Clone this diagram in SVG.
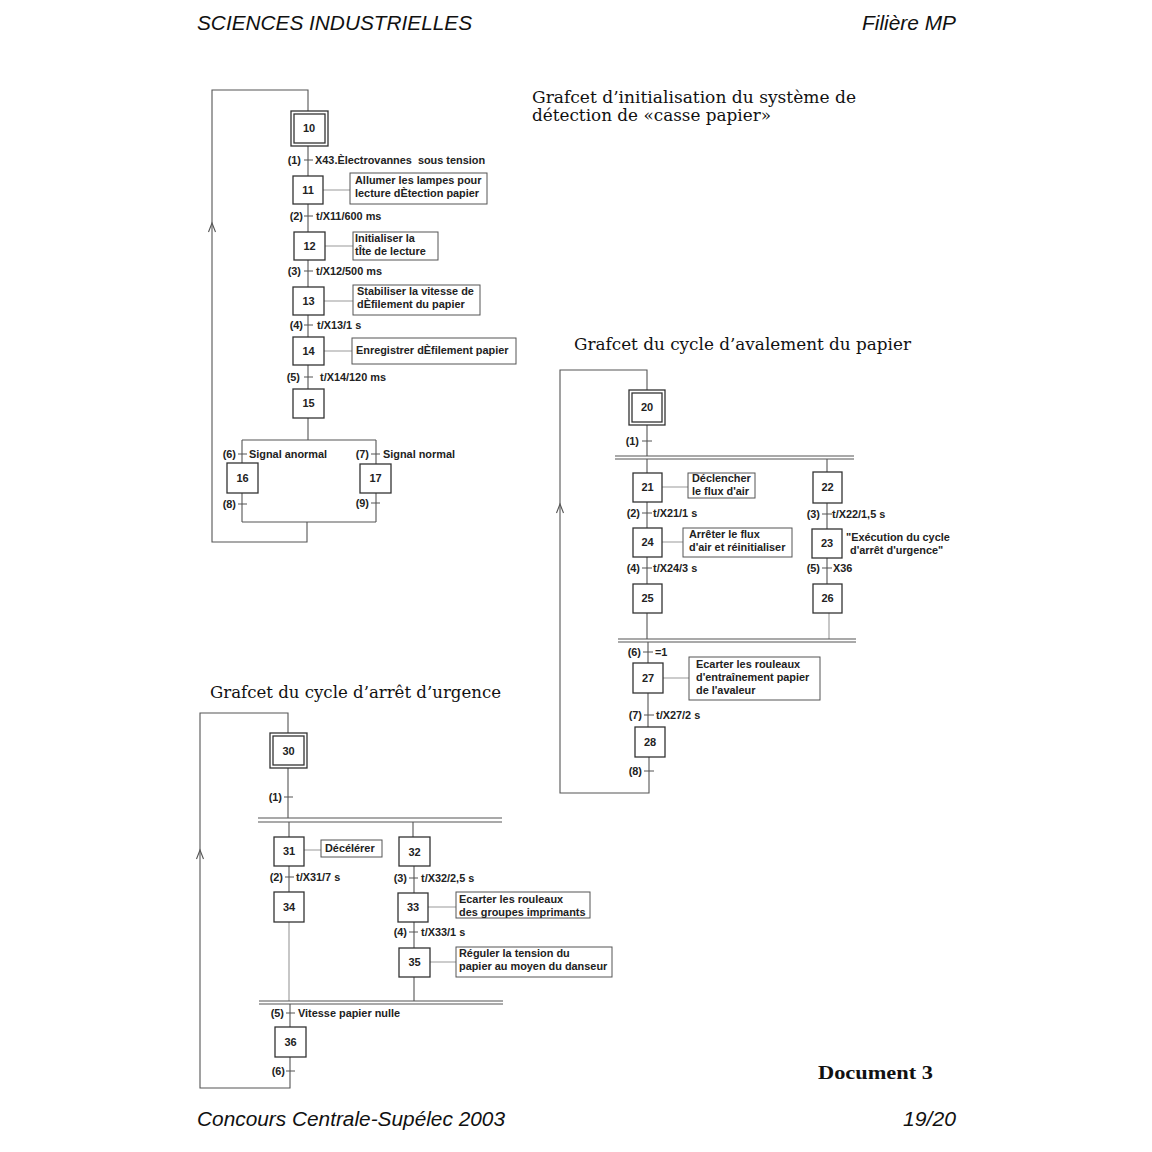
<svg xmlns="http://www.w3.org/2000/svg" width="1152" height="1152" viewBox="0 0 1152 1152">
<style>
.bg{fill:#fff}
.st{fill:#fff;stroke:#333;stroke-width:1.3}
.ac{fill:#fff;stroke:#555;stroke-width:1}
.ln{fill:none;stroke:#555;stroke-width:1.1}
.lg{fill:none;stroke:#999;stroke-width:1.1}
.num{font-family:"Liberation Sans",Arial,sans-serif;font-weight:bold;font-size:11px;fill:#222;text-anchor:middle}
.lb{font-family:"Liberation Sans",Arial,sans-serif;font-weight:bold;font-size:10.9px;fill:#222}
.lbe{font-family:"Liberation Sans",Arial,sans-serif;font-weight:bold;font-size:10.9px;fill:#222;text-anchor:end}
.hd{font-family:"Liberation Sans",Arial,sans-serif;font-style:italic;font-size:20px;fill:#111}
.tt{font-family:"DejaVu Serif","Liberation Serif",serif;font-size:16px;fill:#111}
.doc{font-family:"Liberation Serif",serif;font-weight:bold;font-size:19px;fill:#111}
</style>
<rect class="bg" x="0" y="0" width="1152" height="1152"/>

<!-- headers -->
<text class="hd" x="197" y="30" textLength="275" lengthAdjust="spacingAndGlyphs">SCIENCES INDUSTRIELLES</text>
<text class="hd" x="862" y="30" textLength="94" lengthAdjust="spacingAndGlyphs">Filière MP</text>
<text class="hd" x="197" y="1126" textLength="308" lengthAdjust="spacingAndGlyphs">Concours Centrale-Supélec 2003</text>
<text class="hd" x="903" y="1126" textLength="53" lengthAdjust="spacingAndGlyphs">19/20</text>
<text class="doc" x="818" y="1079" textLength="115" lengthAdjust="spacingAndGlyphs">Document 3</text>

<text class="tt" x="532" y="103" textLength="324" lengthAdjust="spacingAndGlyphs">Grafcet d’initialisation du système de</text>
<text class="tt" x="532" y="121" textLength="239" lengthAdjust="spacingAndGlyphs">détection de «casse papier»</text>
<text class="tt" x="574" y="350" textLength="337" lengthAdjust="spacingAndGlyphs">Grafcet du cycle d’avalement du papier</text>
<text class="tt" x="210" y="698" textLength="291" lengthAdjust="spacingAndGlyphs">Grafcet du cycle d’arrêt d’urgence</text>

<!-- connectors -->
<g id="connectors">
  <!-- grafcet 1 -->
  <path class="ln" d="M308,111 V90 H212 V542 H307 V522"/>
  <path class="ln" d="M208.5,232 L212,223 L215.5,232"/>
  <path class="ln" d="M308,146 V176 M308,204 V232 M308,260 V287 M308,315 V337 M308,365 V389 M308,418 V440"/>
  <path class="ln" d="M242,440 H376 M242,440 V463 M376,440 V464 M242,493 V522 M376,493 V522 M242,522 H376"/>
  <path class="ln" d="M304,160 H313 M304,216 H313 M304,271 H313 M304,325 H313 M304,377 H313 M238,454 H247 M371,454 H380 M238,504 H247 M371,503 H380"/>
  <path class="lg" d="M323,190 H350 M325,246 H353 M324,301 H353 M324,351 H352"/>

  <!-- grafcet 2 -->
  <path class="ln" d="M649,757 V793 H560 V370 H647 V390"/>
  <path class="ln" d="M556.5,513 L560,504 L563.5,513"/>
  <path class="ln" d="M647,425 V456 M615,456 H854 M615,459 H854 M647,459 V473 M827,459 V472"/>
  <path class="ln" d="M647,502 V528 M647,557 V584 M647,613 V639 M827,503 V529 M827,558 V584"/>
  <path class="lg" d="M829,613 V639"/>
  <path class="ln" d="M618,639 H856 M618,642 H856 M648,642 V663 M648,693 V727"/>
  <path class="ln" d="M642,441 H652 M642,513 H652 M642,568 H652 M822,514 H832 M822,568 H832 M643,652 H653 M644,715 H654 M644,771 H654"/>
  <path class="lg" d="M662,487 H688 M662,542 H683 M663,678 H689"/>

  <!-- grafcet 3 -->
  <path class="ln" d="M290,1057 V1088 H200 V713 H288 V733"/>
  <path class="ln" d="M196.5,859 L200,850 L203.5,859"/>
  <path class="ln" d="M288,768 V818 M258,818 H502 M258,822 H502 M289,822 V837 M413,822 V837"/>
  <path class="ln" d="M289,866 V892 M414,866 V893 M414,922 V948 M414,977 V1001"/>
  <path class="lg" d="M289,922 V1001"/>
  <path class="ln" d="M259,1001 H503 M259,1004 H503 M290,1004 V1027"/>
  <path class="ln" d="M284,797 H293 M285,877 H294 M409,878 H418 M409,932 H418 M286,1013 H295 M286,1071 H295"/>
  <path class="lg" d="M304,850 H321 M428,907 H456 M430,962 H456"/>
</g>

<!-- grafcet 1 nodes -->
<g id="step10"><rect class="st" x="291" y="111" width="37" height="35"/><rect class="st" x="294" y="114" width="31" height="29"/><text class="num" x="309" y="132">10</text></g>
<g id="t1_1"><text class="lbe" x="301" y="164">(1)</text><text class="lb" x="315" y="164" xml:space="preserve">X43.Èlectrovannes  sous tension</text></g>
<g id="step11"><rect class="st" x="293" y="176" width="30" height="28"/><text class="num" x="308" y="194">11</text></g>
<g id="act11"><rect class="ac" x="350" y="173" width="137" height="31"/><text class="lb" x="355" y="184">Allumer les lampes pour</text><text class="lb" x="355" y="197">lecture dÈtection papier</text></g>
<g id="t1_2"><text class="lbe" x="303" y="220">(2)</text><text class="lb" x="316" y="220">t/X11/600 ms</text></g>
<g id="step12"><rect class="st" x="294" y="232" width="31" height="28"/><text class="num" x="309.5" y="250">12</text></g>
<g id="act12"><rect class="ac" x="353" y="232" width="85" height="28"/><text class="lb" x="355" y="242">Initialiser la</text><text class="lb" x="355" y="255">tÎte de lecture</text></g>
<g id="t1_3"><text class="lbe" x="301" y="275">(3)</text><text class="lb" x="316" y="275">t/X12/500 ms</text></g>
<g id="step13"><rect class="st" x="293" y="287" width="31" height="28"/><text class="num" x="308.5" y="305">13</text></g>
<g id="act13"><rect class="ac" x="353" y="285" width="127" height="30"/><text class="lb" x="357" y="295">Stabiliser la vitesse de</text><text class="lb" x="357" y="308">dÈfilement du papier</text></g>
<g id="t1_4"><text class="lbe" x="303" y="329">(4)</text><text class="lb" x="317" y="329">t/X13/1 s</text></g>
<g id="step14"><rect class="st" x="293" y="337" width="31" height="28"/><text class="num" x="308.5" y="355">14</text></g>
<g id="act14"><rect class="ac" x="352" y="338" width="164" height="26"/><text class="lb" x="356" y="354">Enregistrer dÈfilement papier</text></g>
<g id="t1_5"><text class="lbe" x="300" y="381">(5)</text><text class="lb" x="320" y="381">t/X14/120 ms</text></g>
<g id="step15"><rect class="st" x="293" y="389" width="31" height="29"/><text class="num" x="308.5" y="407">15</text></g>
<g id="t1_6"><text class="lbe" x="236" y="458">(6)</text><text class="lb" x="249" y="458">Signal anormal</text></g>
<g id="t1_7"><text class="lbe" x="369" y="458">(7)</text><text class="lb" x="383" y="458">Signal normal</text></g>
<g id="step16"><rect class="st" x="227" y="463" width="31" height="30"/><text class="num" x="242.5" y="482">16</text></g>
<g id="step17"><rect class="st" x="360" y="464" width="31" height="29"/><text class="num" x="375.5" y="482">17</text></g>
<g id="t1_8"><text class="lbe" x="236" y="508">(8)</text></g>
<g id="t1_9"><text class="lbe" x="369" y="507">(9)</text></g>

<!-- grafcet 2 nodes -->
<g id="step20"><rect class="st" x="629" y="390" width="36" height="35"/><rect class="st" x="632" y="393" width="30" height="29"/><text class="num" x="647" y="411">20</text></g>
<g id="t2_1"><text class="lbe" x="639" y="445">(1)</text></g>
<g id="step21"><rect class="st" x="633" y="473" width="29" height="29"/><text class="num" x="647.5" y="491">21</text></g>
<g id="act21"><rect class="ac" x="688" y="473" width="67" height="25"/><text class="lb" x="692" y="482">Déclencher</text><text class="lb" x="692" y="495">le flux d'air</text></g>
<g id="t2_2"><text class="lbe" x="640" y="517">(2)</text><text class="lb" x="653" y="517">t/X21/1 s</text></g>
<g id="step24"><rect class="st" x="633" y="528" width="29" height="29"/><text class="num" x="647.5" y="546">24</text></g>
<g id="act24"><rect class="ac" x="683" y="528" width="109" height="29"/><text class="lb" x="689" y="538">Arrêter le flux</text><text class="lb" x="689" y="551">d'air et réinitialiser</text></g>
<g id="t2_4"><text class="lbe" x="640" y="572">(4)</text><text class="lb" x="653" y="572">t/X24/3 s</text></g>
<g id="step25"><rect class="st" x="633" y="584" width="29" height="29"/><text class="num" x="647.5" y="602">25</text></g>
<g id="step22"><rect class="st" x="813" y="472" width="29" height="31"/><text class="num" x="827.5" y="491">22</text></g>
<g id="t2_3"><text class="lbe" x="820" y="518">(3)</text><text class="lb" x="832" y="518">t/X22/1,5 s</text></g>
<g id="step23"><rect class="st" x="812" y="529" width="30" height="29"/><text class="num" x="827" y="547">23</text></g>
<g id="note23"><text class="lb" x="846" y="541">"Exécution du cycle</text><text class="lb" x="850" y="554">d'arrêt d'urgence"</text></g>
<g id="t2_5"><text class="lbe" x="820" y="572">(5)</text><text class="lb" x="833" y="572">X36</text></g>
<g id="step26"><rect class="st" x="813" y="584" width="29" height="29"/><text class="num" x="827.5" y="602">26</text></g>
<g id="t2_6"><text class="lbe" x="641" y="656">(6)</text><text class="lb" x="655" y="656">=1</text></g>
<g id="step27"><rect class="st" x="633" y="663" width="30" height="30"/><text class="num" x="648" y="682">27</text></g>
<g id="act27"><rect class="ac" x="689" y="657" width="131" height="43"/><text class="lb" x="696" y="668">Ecarter les rouleaux</text><text class="lb" x="696" y="681">d'entraînement papier</text><text class="lb" x="696" y="694">de l'avaleur</text></g>
<g id="t2_7"><text class="lbe" x="642" y="719">(7)</text><text class="lb" x="656" y="719">t/X27/2 s</text></g>
<g id="step28"><rect class="st" x="635" y="727" width="30" height="30"/><text class="num" x="650" y="746">28</text></g>
<g id="t2_8"><text class="lbe" x="642" y="775">(8)</text></g>

<!-- grafcet 3 nodes -->
<g id="step30"><rect class="st" x="270" y="733" width="37" height="35"/><rect class="st" x="273" y="736" width="31" height="29"/><text class="num" x="288.5" y="755">30</text></g>
<g id="t3_1"><text class="lbe" x="282" y="801">(1)</text></g>
<g id="step31"><rect class="st" x="274" y="837" width="30" height="29"/><text class="num" x="289" y="855">31</text></g>
<g id="act31"><rect class="ac" x="321" y="840" width="61" height="17"/><text class="lb" x="325" y="852">Décélérer</text></g>
<g id="t3_2"><text class="lbe" x="283" y="881">(2)</text><text class="lb" x="296" y="881">t/X31/7 s</text></g>
<g id="step34"><rect class="st" x="274" y="892" width="30" height="30"/><text class="num" x="289" y="911">34</text></g>
<g id="step32"><rect class="st" x="399" y="837" width="31" height="29"/><text class="num" x="414.5" y="856">32</text></g>
<g id="t3_3"><text class="lbe" x="407" y="882">(3)</text><text class="lb" x="421" y="882">t/X32/2,5 s</text></g>
<g id="step33"><rect class="st" x="398" y="893" width="30" height="29"/><text class="num" x="413" y="911">33</text></g>
<g id="act33"><rect class="ac" x="456" y="892" width="134" height="26"/><text class="lb" x="459" y="903">Ecarter les rouleaux</text><text class="lb" x="459" y="916">des groupes imprimants</text></g>
<g id="t3_4"><text class="lbe" x="407" y="936">(4)</text><text class="lb" x="421" y="936">t/X33/1 s</text></g>
<g id="step35"><rect class="st" x="399" y="948" width="31" height="29"/><text class="num" x="414.5" y="966">35</text></g>
<g id="act35"><rect class="ac" x="456" y="947" width="156" height="30"/><text class="lb" x="459" y="957">Réguler la tension du</text><text class="lb" x="459" y="970">papier au moyen du danseur</text></g>
<g id="t3_5"><text class="lbe" x="284" y="1017">(5)</text><text class="lb" x="298" y="1017">Vitesse papier nulle</text></g>
<g id="step36"><rect class="st" x="275" y="1027" width="31" height="30"/><text class="num" x="290.5" y="1046">36</text></g>
<g id="t3_6"><text class="lbe" x="285" y="1075">(6)</text></g>
</svg>
